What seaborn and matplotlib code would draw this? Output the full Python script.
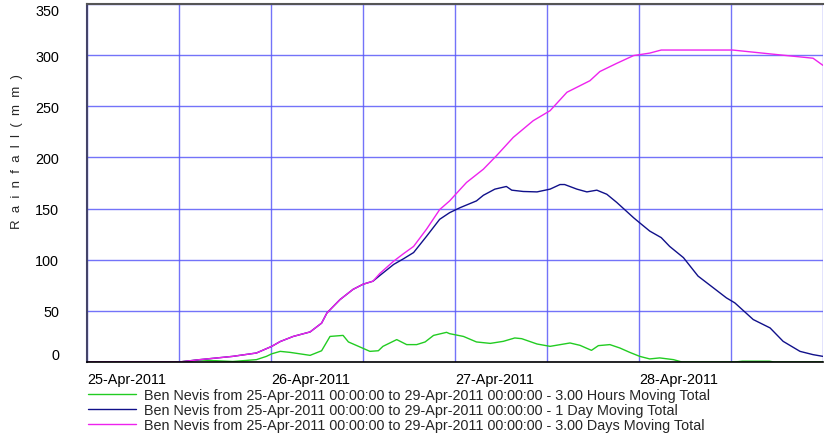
import pandas as pd
import seaborn as sns
import matplotlib.pyplot as plt
import matplotlib.dates as mdates

# 시리즈 데이터 (2011-04-25 00:00 기준 경과 시간, 강수량 mm)
green_hours = [0, 12, 14.7, 19, 22.1, 23.4, 24.1, 25.2, 26.5, 29.1, 30.6, 31.7, 33.4, 34.1, 35.6, 36.9,
               38, 38.6, 40.4, 41.7, 43, 44.1, 45.2, 46.9, 47.3, 49.1, 50.8, 52.6, 54.3, 55.8, 56.7,
               58.7, 60.4, 63, 64.3, 65.8, 66.7, 68.2, 69.5, 70.8, 72.1, 73.4, 74.7, 76.5, 77.6,
               84.5, 85.5, 89, 89.6, 96]
green_mm = [0, 0, 2, 0.5, 2.3, 5.5, 8, 10.4, 9.4, 6.5, 11, 25, 26, 19.6, 14.7, 10.4,
            11, 15.3, 21.9, 17, 17, 19.6, 26, 29, 27.7, 25, 19.6, 18.2, 20.2, 23.5, 22.8,
            17.6, 15.3, 18.6, 16.3, 11.4, 16, 17, 13.7, 9.4, 5.5, 3, 4, 2.3, 0,
            0, 0.8, 0.8, 0, 0]

navy_hours = [0, 12, 14.7, 19, 22.1, 24.1, 25.2, 26.9, 29.1, 30.6, 31.3, 33, 34.7, 36, 37.3, 38.2,
              40, 41.3, 42.6, 44.3, 46, 47.3, 48.7, 50.8, 51.7, 53.2, 54.7, 55.4, 56.9, 58.7,
              60.4, 61.7, 62.3, 63.9, 65.2, 66.5, 67.8, 69.1, 71.3, 72.1, 73.4, 74.9, 76, 77.8,
              79.7, 81.7, 83.4, 84.5, 86.9, 89.1, 90.8, 93, 94.7, 96]
navy_mm = [0, 0, 2.3, 5.5, 8.8, 15.3, 20, 25, 29.4, 38, 48, 61, 71, 76, 79, 84.6,
           95.4, 101, 107, 123, 139.5, 146, 151, 157.5, 163, 169, 171.6, 168, 166.7, 166.3,
           169, 173.5, 173.5, 169, 166.3, 168, 164, 156, 141, 136, 128, 121.6, 113, 102,
           84, 72.5, 62.7, 57.8, 41.5, 33.3, 20.2, 10.4, 7.2, 5.5]

magenta_hours = [0, 12, 14.7, 19, 22.1, 24.1, 25.2, 26.9, 29.1, 30.6, 31.3, 33, 34.7, 36, 37.3, 38.2,
                 40, 41.3, 42.6, 44.3, 46, 47.3, 48.7, 49.5, 51.7, 53.4, 55.6, 58.2, 60.4, 62.6,
                 65.6, 66.9, 69.1, 71.3, 73.4, 74.9, 84.2, 89, 94.7, 96]
magenta_mm = [0, 0, 2.3, 5.5, 8.8, 15.3, 20, 25, 29.4, 38, 48, 61, 71, 76, 79, 86.6,
              98.6, 106, 113, 130, 149, 157.5, 169, 175.5, 188.5, 201.6, 219.6, 235.9, 245.7, 263.7,
              275, 284, 292, 299.6, 302, 305, 305, 301.3, 297, 290]

series_names = [
    'Ben Nevis from 25-Apr-2011 00:00:00 to 29-Apr-2011 00:00:00 - 3.00 Hours Moving Total',
    'Ben Nevis from 25-Apr-2011 00:00:00 to 29-Apr-2011 00:00:00 - 1 Day Moving Total',
    'Ben Nevis from 25-Apr-2011 00:00:00 to 29-Apr-2011 00:00:00 - 3.00 Days Moving Total',
]
series_colors = ['#22cc22', '#10108a', '#ee22ee']
day_ticks = ['2011-04-25', '2011-04-26', '2011-04-27', '2011-04-28']
y_ticks = [0, 50, 100, 150, 200, 250, 300, 350]

start = pd.Timestamp('2011-04-25')
frames = []
for name, hrs, vals in zip(series_names,
                           [green_hours, navy_hours, magenta_hours],
                           [green_mm, navy_mm, magenta_mm]):
    frames.append(pd.DataFrame({'time': start + pd.to_timedelta(hrs, unit='h'),
                                'rain': vals, 'series': name}))
df = pd.concat(frames, ignore_index=True)

sns.set_style('white')
plt.rcParams['font.family'] = ['Liberation Sans', 'DejaVu Sans']

fig = plt.figure(figsize=(8.25, 4.39), dpi=100)
ax = fig.add_axes([87 / 825, 76 / 439, 736 / 825, 358 / 439])

sns.lineplot(data=df, x='time', y='rain', hue='series', hue_order=series_names,
             palette=series_colors, linewidth=1.0, ax=ax)

ax.set_xlim(start, pd.Timestamp('2011-04-29'))
ax.set_ylim(0, 350)
ax.set_yticks(y_ticks)
ax.set_xticks(pd.to_datetime(day_ticks))
ax.xaxis.set_minor_locator(mdates.HourLocator(byhour=[0, 12]))
ax.xaxis.set_major_formatter(mdates.DateFormatter('%d-%b-%Y'))

# 격자
ax.grid(True, which='both', axis='x', color='#5a5af8', alpha=0.85, linewidth=1.0)
ax.grid(True, which='major', axis='y', color='#5a5af8', alpha=0.85, linewidth=1.0)
ax.tick_params(axis='both', which='both', length=0, labelsize=10.4, colors='black')
ax.tick_params(axis='y', pad=20)
ax.tick_params(axis='x', pad=7)
for lbl in ax.get_xticklabels():
    lbl.set_ha('left')
ylbls = ax.get_yticklabels()
ylbls[0].set_va('bottom')
ylbls[-1].set_va('top')

ax.spines['right'].set_visible(False)
ax.spines['top'].set_color('#555555')
ax.spines['top'].set_linewidth(1.5)
ax.spines['left'].set_color('#44446a')
ax.spines['left'].set_linewidth(1.5)
ax.spines['bottom'].set_color('black')
ax.spines['bottom'].set_linewidth(1.2)

ax.set_xlabel('')
ax.set_ylabel('R  a  i  n  f  a  l  l  (  m  m  )', fontsize=9.5)
ax.yaxis.label.set_va('center')
ax.yaxis.set_label_coords((17.5 - 87) / 736, (363 - 152) / 358)

sns.move_legend(ax, 'upper left', bbox_to_anchor=(0.002, -0.074), frameon=False, title=None,
                fontsize=10.4, handlelength=3.3, handletextpad=0.55, labelspacing=0.05,
                borderpad=0, borderaxespad=0)

fig.savefig('out.png', dpi=100)
